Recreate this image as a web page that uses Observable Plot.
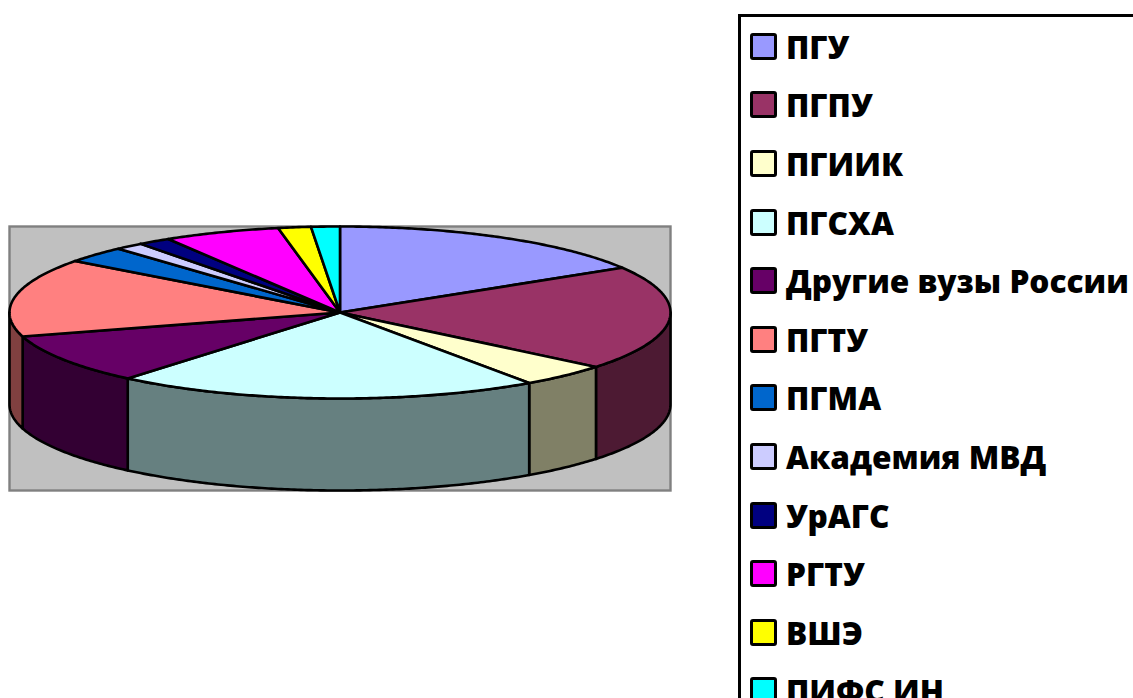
<!DOCTYPE html>
<html lang="ru">
<head>
<meta charset="utf-8">
<style>
html,body{margin:0;padding:0;background:#fff;width:1133px;height:698px;overflow:hidden}
#page{display:flex;width:1133px;height:698px;overflow:hidden}
#chart{flex:0 0 738px;height:698px}
#chart svg{display:block}
#legend{flex:0 0 395px;box-sizing:border-box;height:700px;margin-top:14px;border-top:3px solid #000;border-left:3px solid #000;padding:0 0 0 9px;font:800 31.6px "Open Sans",sans-serif;color:#000;overflow:hidden}
.row{display:flex;align-items:center;height:58.6px;white-space:nowrap}
.swatch{box-sizing:border-box;width:27px;height:27px;border:3px solid #000;border-radius:3px;margin-right:9px;flex:none}
</style>
<script src="https://cdn.jsdelivr.net/npm/d3@7"></script>
<script src="https://cdn.jsdelivr.net/npm/@observablehq/plot@0.6"></script>
</head>
<body>
<div id="page"><div id="chart"></div><div id="legend"></div></div>
<script>
const names = ["ПГУ","ПГПУ","ПГИИК","ПГСХА","Другие вузы России","ПГТУ","ПГМА","Академия МВД","УрАГС","РГТУ","ВШЭ","ПИФС ИН"];
const shares = [16.3,19.6,4.4,20.8,9.4,14.7,3.1,1.4,1.6,5.7,1.6,1.4];
const colors = ["#9999FF","#993366","#FFFFCC","#CCFFFF","#660066","#FF8080","#0066CC","#CCCCFF","#000080","#FF00FF","#FFFF00","#00FFFF"];

const depth = 92 / 86;   // thickness of the disc relative to its vertical radius
const total = d3.sum(shares);
const cum = d3.cumsum(shares);
const bounds = names.map((n, i) => {
  const end = cum[i] / total * 2 * Math.PI;
  return {name: n, color: colors[i], a0: end - shares[i] / total * 2 * Math.PI, a1: end};
});
const arc = (a0, a1) => {
  const n = Math.max(2, Math.ceil((a1 - a0) / 0.01));
  return d3.range(n + 1).map(k => a0 + (a1 - a0) * k / n);
};
const dark = c => { const r = d3.rgb(c); return d3.rgb(r.r / 2, r.g / 2, r.b / 2).formatHex(); };

// top of each slice
const tops = bounds.flatMap(b => [
  {name: b.name, color: b.color, px: 0, py: 0},
  ...arc(b.a0, b.a1).map(a => ({name: b.name, color: b.color, px: Math.sin(a), py: Math.cos(a)}))
]);
// visible rim of each slice (front half of the disc)
const sides = bounds.flatMap(b => {
  const a0 = Math.max(b.a0, Math.PI / 2), a1 = Math.min(b.a1, 3 * Math.PI / 2);
  if (a1 <= a0) return [];
  const as = arc(a0, a1), fill = dark(b.color);
  return [
    ...as.map(a => ({name: b.name, color: fill, px: Math.sin(a), py: Math.cos(a)})),
    ...as.slice().reverse().map(a => ({name: b.name, color: fill, px: Math.sin(a), py: Math.cos(a) - depth}))
  ];
});

const lineOpts = {x: "px", y: "py", z: "name", fill: "color", stroke: "#000", strokeWidth: 2.6,
  curve: "linear-closed", strokeLinejoin: "round"};

const chart = Plot.plot({
  width: 738, height: 698,
  marginLeft: 9, marginRight: 68, marginTop: 226, marginBottom: 208,
  x: {domain: [-1, 1], axis: null},
  y: {domain: [-1 - depth, 1], axis: null},
  marks: [
    Plot.frame({fill: "#C0C0C0", stroke: "#808080", strokeWidth: 2.4}),
    Plot.line(sides, lineOpts),
    Plot.line(tops, lineOpts)
  ]
});
document.getElementById("chart").append(chart);

const legend = d3.select("#legend");
names.forEach((n, i) => {
  const row = legend.append("div").attr("class", "row");
  row.append("span").attr("class", "swatch").style("background", colors[i]);
  row.append("span").text(n);
});
</script>
</body>
</html>
